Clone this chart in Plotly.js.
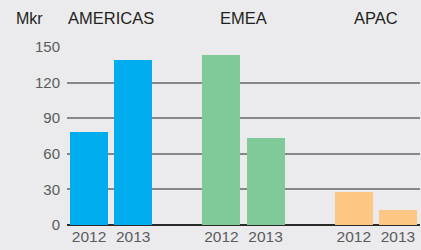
<!DOCTYPE html>
<html><head><meta charset="utf-8">
<script src="https://cdn.plot.ly/plotly-3.0.1.min.js"></script>
<style>html,body{margin:0;padding:0;background:#ebebed;}#chart{width:421px;height:250px;}</style>
</head><body><div id="chart"></div>
<script>
const regions = ["AMERICAS", "EMEA", "APAC"];
const years = ["2012", "2013"];
const americas = [78, 139];
const emea = [143, 73];
const apac = [28, 13];
const yTicks = [0, 30, 60, 90, 120, 150];
const unitLabel = "Mkr";

const seriesValues = [americas, emea, apac];
const colors = ["#00aeef", "#7fca98", "#fdc685"];
const slot = 3;

const traces = regions.map((r, g) => ({
  type: "bar",
  x: years.map((y, i) => g * slot + i),
  y: seriesValues[g],
  marker: {color: colors[g], line: {width: 0}},
  width: 0.86,
  hoverinfo: "skip",
  showlegend: false
}));

const tickvals = [], ticktext = [];
regions.forEach((r, g) => years.forEach((y, i) => { tickvals.push(g * slot + i); ticktext.push(y); }));

const annotations = regions.map((r, g) => ({
  text: r, xref: "x", yref: "paper", x: g * slot + 0.5, y: 1, yshift: 29,
  xanchor: "center", yanchor: "middle", showarrow: false,
  font: {family: "Liberation Sans, Arial, sans-serif", size: 16.5, color: "#231f20"}
}));
annotations.push({
  text: unitLabel, xref: "paper", yref: "paper", x: 0, y: 1, xshift: -53, yshift: 29,
  xanchor: "left", yanchor: "middle", showarrow: false,
  font: {family: "Liberation Sans, Arial, sans-serif", size: 16, color: "#231f20"}
});

const layout = {
  width: 421, height: 250,
  margin: {l: 67, r: 1, t: 47, b: 25, pad: 0},
  paper_bgcolor: "#ebebed", plot_bgcolor: "#ebebed",
  bargap: 0,
  xaxis: {
    range: [-0.5, 7.5], tickvals: tickvals, ticktext: ticktext,
    showgrid: false, zeroline: false, showline: false, ticks: "",
    tickfont: {family: "Liberation Sans, Arial, sans-serif", size: 15.5, color: "#5a5b5d"},
    fixedrange: true
  },
  yaxis: {
    range: [0, 150], tickvals: yTicks, ticks: "", ticklabelstandoff: 6,
    showgrid: true, gridcolor: "#878787", gridwidth: 2,
    zeroline: true, zerolinecolor: "#2a2a2a", zerolinewidth: 2,
    showline: false,
    tickfont: {family: "Liberation Sans, Arial, sans-serif", size: 15, color: "#5a5b5d"},
    fixedrange: true
  },
  annotations: annotations
};

Plotly.newPlot("chart", traces, layout, {staticPlot: true, displayModeBar: false});
</script></body></html>
